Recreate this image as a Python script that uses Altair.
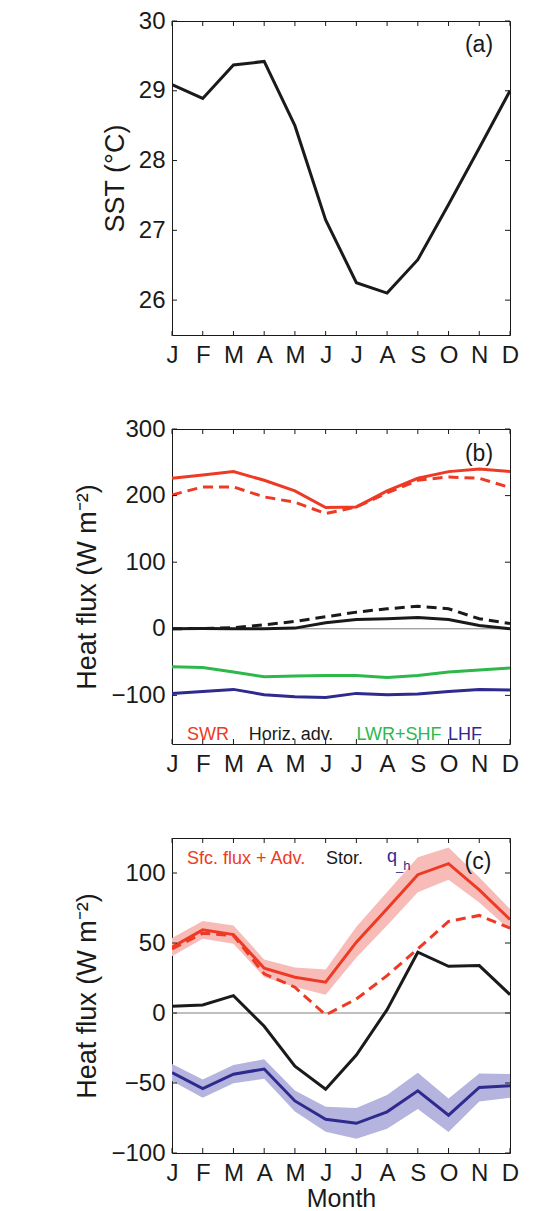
import altair as alt
import pandas as pd

months = ["J", "F", "M", "A", "M", "J", "J", "A", "S", "O", "N", "D"]
idx = list(range(12))

# (a) SST
sst = [29.09, 28.89, 29.37, 29.42, 28.5, 27.15, 26.25, 26.1, 26.58, 27.37, 28.18, 29.0]

# (b) heat flux components
swr = [226, 231, 236, 223, 207, 182, 183, 207, 226, 236, 240, 236]
swr_dash = [201, 213, 213, 198, 190, 173, 183, 204, 223, 228, 226, 212]
adv = [0, 0.5, 0, 0, 1, 9, 14, 15, 17, 14, 5, 0]
adv_dash = [0, 0.5, 1.5, 6, 11, 18, 25, 30, 34, 30, 15, 8]
lwr_shf = [-57, -58, -65, -72, -71, -70, -70, -73, -70, -65, -62, -59]
lhf = [-97, -94, -91, -99, -102, -103, -97, -99, -98, -94, -91, -92]

# (c) budget
sfc_adv = [47, 59.4, 56, 32, 25.5, 22, 50.6, 74.5, 98.8, 106.7, 88, 66.8]
sfc_adv_err = [6.5, 6.3, 6.5, 6.3, 7, 9, 11, 12, 12.5, 11.5, 9, 7.5]
sfc_adv_dash = [45.8, 57, 55.4, 28, 18.4, -1.4, 10, 26.7, 45.8, 65.4, 69.7, 60.6]
stor = [4.8, 5.7, 12.4, -9.5, -38, -54.4, -30, 2.4, 43.4, 33.4, 33.9, 13.1]
qh = [-42.5, -54, -43.7, -40, -62.8, -75.9, -78.8, -70.6, -55.6, -73, -53.2, -52]
qh_err = [6, 6.5, 6.5, 7, 7.5, 9, 11, 12, 13, 12, 10, 8.5]

yticks_a = [26, 27, 28, 29, 30]
yticks_b = [-100, 0, 100, 200, 300]
yticks_c = [-100, -50, 0, 50, 100]

RED = "#ee3a24"
BLACK = "#1a1a1a"
GREEN = "#2db84b"
BLUE = "#2e2a8e"
RED_BAND = "#f8bcb8"
BLUE_BAND = "#b4b4de"
ZERO = "#808080"
FONT = "Liberation Sans"

W = 338
H = 315

label_expr = "[" + ",".join("'%s'" % m for m in months) + "][datum.value]"


def xenc(title=None):
    return alt.X(
        "i:Q",
        scale=alt.Scale(domain=[0, 11], nice=False, zero=False),
        axis=alt.Axis(values=idx, labelExpr=label_expr, title=title,
                      labelOverlap=False),
    )


def yaxis(vals, title):
    return alt.Axis(values=vals, title=title, format="d", labelOverlap=False)


def line(values, color, dash=None, width=3):
    df = pd.DataFrame({"i": idx, "v": values})
    kw = dict(color=color, strokeWidth=width, clip=True)
    if dash:
        kw["strokeDash"] = dash
    return alt.Chart(df).mark_line(**kw)


def frame_ticks(yvals, ydomain, xtitle=None):
    xdf = pd.DataFrame({"i": idx})
    ydf = pd.DataFrame({"v": yvals})
    ysc = alt.Scale(domain=ydomain, nice=False, zero=False)
    bot = alt.Chart(xdf).mark_rule(color=BLACK, strokeWidth=1).encode(
        x=xenc(xtitle), y=alt.value(H), y2=alt.value(H - 5))
    top = alt.Chart(xdf).mark_rule(color=BLACK, strokeWidth=1).encode(
        x=xenc(xtitle), y=alt.value(0), y2=alt.value(5))
    left = alt.Chart(ydf).mark_rule(color=BLACK, strokeWidth=1).encode(
        y=alt.Y("v:Q", scale=ysc), x=alt.value(0), x2=alt.value(5))
    right = alt.Chart(ydf).mark_rule(color=BLACK, strokeWidth=1).encode(
        y=alt.Y("v:Q", scale=ysc), x=alt.value(W), x2=alt.value(W - 5))
    return [bot, top, left, right]


def txt(s, x, y, color=BLACK, size=18, align="left"):
    return alt.Chart(pd.DataFrame({"t": [s]})).mark_text(
        text=s, color=color, fontSize=size, font=FONT, align=align,
        baseline="middle").encode(x=alt.value(x), y=alt.value(y))


# ---------- (a)
dom_a = [25.5, 30]
ya = alt.Y("v:Q", scale=alt.Scale(domain=dom_a, nice=False, zero=False),
           axis=yaxis(yticks_a, "SST (°C)"))
pa = alt.layer(
    line(sst, BLACK).encode(x=xenc(), y=ya),
    *frame_ticks(yticks_a, dom_a),
    txt("(a)", W - 31, 24, size=23, align="center"),
).properties(width=W, height=314)

# ---------- (b)
dom_b = [-173, 300]
yb = alt.Y("v:Q", scale=alt.Scale(domain=dom_b, nice=False, zero=False),
           axis=yaxis(yticks_b, "Heat flux (W m⁻²)"))
zero_b = alt.Chart(pd.DataFrame({"v": [0]})).mark_rule(
    color=ZERO, strokeWidth=1)
pb = alt.layer(
    zero_b.encode(y=yb),
    line(swr_dash, RED, [10, 6]).encode(x=xenc(), y=yb),
    line(swr, RED).encode(x=xenc(), y=yb),
    line(adv_dash, BLACK, [10, 6]).encode(x=xenc(), y=yb),
    line(adv, BLACK).encode(x=xenc(), y=yb),
    line(lwr_shf, GREEN).encode(x=xenc(), y=yb),
    line(lhf, BLUE).encode(x=xenc(), y=yb),
    *frame_ticks(yticks_b, dom_b),
    txt("(b)", W - 31, 25, size=23, align="center"),
    txt("SWR", 36, 306, RED, align="center"),
    txt("Horiz. adv.", 119, 306, BLACK, align="center"),
    txt("LWR+SHF", 227, 306, GREEN, align="center"),
    txt("LHF", 293, 306, BLUE, align="center"),
).properties(width=W, height=H)

# ---------- (c)
dom_c = [-100, 125]
yc = alt.Y("v:Q", scale=alt.Scale(domain=dom_c, nice=False, zero=False),
           axis=yaxis(yticks_c, "Heat flux (W m⁻²)"))


def band(values, err, color):
    df = pd.DataFrame({"i": idx,
                       "lo": [v - e for v, e in zip(values, err)],
                       "hi": [v + e for v, e in zip(values, err)]})
    return alt.Chart(df).mark_area(color=color, opacity=1, clip=True).encode(
        x=xenc("Month"),
        y=alt.Y("lo:Q", scale=alt.Scale(domain=dom_c, nice=False, zero=False),
                axis=yaxis(yticks_c, "Heat flux (W m⁻²)")),
        y2="hi:Q")


zero_c = alt.Chart(pd.DataFrame({"v": [0]})).mark_rule(
    color=ZERO, strokeWidth=1)
pc = alt.layer(
    band(sfc_adv, sfc_adv_err, RED_BAND),
    band(qh, qh_err, BLUE_BAND),
    zero_c.encode(y=yc),
    line(sfc_adv_dash, RED, [10, 6]).encode(x=xenc("Month"), y=yc),
    line(sfc_adv, RED).encode(x=xenc("Month"), y=yc),
    line(stor, BLACK).encode(x=xenc("Month"), y=yc),
    line(qh, BLUE).encode(x=xenc("Month"), y=yc),
    *frame_ticks(yticks_c, dom_c, "Month"),
    txt("(c)", W - 32, 24, size=23, align="center"),
    txt("Sfc. flux + Adv.", 15, 21, RED),
    txt("Stor.", 154, 21, BLACK),
    txt("q", 215, 19, BLUE),
    txt("_h", 224, 28, BLUE, size=13),
).properties(width=W, height=H)

chart = alt.vconcat(pa, pb, pc, spacing=94, bounds="flush").properties(
    padding={"left": 73, "top": 8, "right": 5, "bottom": 5}
).configure_view(
    stroke=BLACK, strokeWidth=1
).configure_axis(
    domain=False, ticks=False, grid=False, labelOverlap=False,
    labelFont=FONT, titleFont=FONT, labelFontSize=24, titleFontSize=27,
    labelColor=BLACK, titleColor=BLACK, titleFontWeight="normal",
    labelPadding=7, titlePadding=9,
).configure_axisX(labelPadding=8, titlePadding=1, labelFlush=False,
                  titleFontSize=25
).configure_axisY(labelFlush=False)

chart.save("out.html", embed_options={"renderer": "svg", "actions": False})
